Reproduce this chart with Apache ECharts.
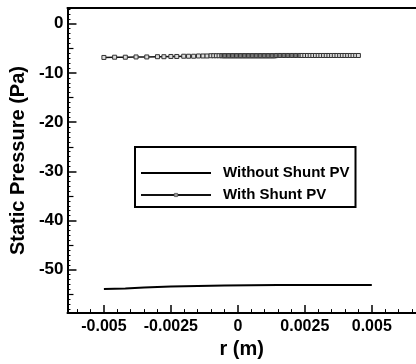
<!DOCTYPE html>
<html>
<head>
<meta charset="utf-8">
<script src="https://cdn.jsdelivr.net/npm/echarts@6/dist/echarts.min.js"></script>
<style>
  html, body { margin: 0; padding: 0; background: #fff; }
  #chart { width: 416px; height: 364px; }
</style>
</head>
<body>
<div id="chart"></div>
<script>
// ---- data ----
const seriesNames = ['Without Shunt PV', 'With Shunt PV'];

const rNoShunt = [-0.005, -0.0042, -0.0035, -0.0025, -0.0015, -0.0005, 0.0005, 0.0015, 0.0025, 0.0035, 0.005];
const pNoShunt = [-53.9, -53.8, -53.6, -53.4, -53.3, -53.2, -53.15, -53.1, -53.1, -53.1, -53.1];

const rShunt = [-0.005, -0.0046, -0.0042, -0.0038, -0.0034, -0.003, -0.00276, -0.0025, -0.00228, -0.00202,
  -0.00184, -0.00165, -0.00147, -0.0013, -0.00115, -0.001, -0.0009, -0.0008, -0.0007, -0.0006,
  -0.00055, -0.0005, -0.00045, -0.0004, -0.00035, -0.0003, -0.00025, -0.0002, -0.00015, -0.0001,
  -0.00005, 0, 0.00005, 0.0001, 0.00015, 0.0002, 0.00025, 0.0003, 0.00035, 0.0004,
  0.00045, 0.0005, 0.00055, 0.0006, 0.00065, 0.0007, 0.00075, 0.0008, 0.00085, 0.0009,
  0.00095, 0.001, 0.00105, 0.0011, 0.00115, 0.0012, 0.00125, 0.0013, 0.00135, 0.0014,
  0.00145, 0.0015, 0.00155, 0.0016, 0.00165, 0.0017, 0.00175, 0.0018, 0.00185, 0.0019,
  0.00195, 0.002, 0.00205, 0.0021, 0.00215, 0.0022, 0.00225, 0.0023, 0.00235, 0.0024,
  0.0025, 0.0026, 0.0027, 0.0028, 0.0029, 0.003, 0.0031, 0.0032, 0.0033, 0.0034,
  0.0035, 0.0036, 0.0037, 0.0038, 0.0039, 0.004, 0.0041, 0.0042, 0.0043, 0.0044,
  0.0045];
const pShunt = [-6.85, -6.8, -6.8, -6.75, -6.75, -6.7, -6.7, -6.65, -6.65, -6.6,
  -6.6, -6.6, -6.55, -6.55, -6.55, -6.5, -6.5, -6.5, -6.5, -6.5,
  -6.5, -6.5, -6.5, -6.5, -6.5, -6.5, -6.5, -6.5, -6.5, -6.5,
  -6.5, -6.5, -6.5, -6.5, -6.5, -6.5, -6.5, -6.5, -6.5, -6.5,
  -6.5, -6.5, -6.5, -6.5, -6.5, -6.5, -6.5, -6.5, -6.5, -6.5,
  -6.5, -6.5, -6.5, -6.5, -6.5, -6.5, -6.5, -6.5, -6.5, -6.5,
  -6.45, -6.45, -6.45, -6.45, -6.45, -6.45, -6.45, -6.45, -6.45, -6.45,
  -6.45, -6.45, -6.45, -6.45, -6.45, -6.45, -6.45, -6.45, -6.45, -6.45,
  -6.45, -6.45, -6.45, -6.45, -6.45, -6.45, -6.45, -6.45, -6.45, -6.45,
  -6.45, -6.45, -6.45, -6.45, -6.45, -6.45, -6.45, -6.45, -6.45, -6.45,
  -6.45];

// ---- ticks ----
const xMajor = [-0.005, -0.0025, 0, 0.0025, 0.005];
const xMinor = [-0.006, -0.0055, -0.0045, -0.004, -0.0035, -0.003, -0.002, -0.0015, -0.001, -0.0005,
  0.0005, 0.001, 0.0015, 0.002, 0.003, 0.0035, 0.004, 0.0045, 0.0055, 0.006, 0.0065];
const yMajor = [0, -10, -20, -30, -40, -50];
const yMid = [-5, -15, -25, -35, -45, -55];
const yMinor = [];
for (let v = 3; v >= -58; v--) {
  if (v % 5 !== 0) yMinor.push(v);
}

const X_MIN = -0.00636, X_MAX = 0.00665;
const Y_MIN = -58.8, Y_MAX = 3.2;

const font = '"Liberation Sans", Arial, sans-serif';
const black = '#000';

function pairs(xs, ys) {
  return xs.map((x, i) => [x, ys[i]]);
}

function xAx(extra) {
  return Object.assign({
    type: 'value', min: X_MIN, max: X_MAX, position: 'bottom',
    axisLine: { show: false, onZero: false },
    axisTick: { show: false },
    axisLabel: { show: false },
    splitLine: { show: false }
  }, extra);
}
function yAx(extra) {
  return Object.assign({
    type: 'value', min: Y_MIN, max: Y_MAX, position: 'left',
    axisLine: { show: false, onZero: false },
    axisTick: { show: false },
    axisLabel: { show: false },
    splitLine: { show: false }
  }, extra);
}

const chart = echarts.init(document.getElementById('chart'));
chart.setOption({
  animation: false,
  backgroundColor: '#fff',
  grid: { left: 62, right: 0, top: 8, bottom: 47 },
  legend: {
    orient: 'vertical',
    left: 135, top: 147,
    padding: [18, 6, 4, 5],
    itemWidth: 70, itemHeight: 4, itemGap: 6,
    borderColor: black, borderWidth: 2, backgroundColor: '#fff',
    textStyle: { fontFamily: font, fontWeight: 'bold', fontSize: 15, color: black, padding: [0, 0, 0, 7], lineHeight: 16 },
    data: [
      { name: seriesNames[0], itemStyle: { opacity: 0 } },
      { name: seriesNames[1], itemStyle: { color: '#999', borderColor: '#666', borderWidth: 1 } }
    ]
  },
  xAxis: [
    xAx({
      axisLine: { show: true, onZero: false, lineStyle: { color: black, width: 2 } },
      axisTick: { show: true, inside: true, length: 8, customValues: xMajor, lineStyle: { color: black, width: 1.5 } },
      axisLabel: {
        show: true, customValues: xMajor, margin: 5,
        fontFamily: font, fontWeight: 'bold', fontSize: 16, color: black,
        formatter: v => String(v)
      },
      name: 'r (m)', nameLocation: 'middle', nameGap: 22,
      nameTextStyle: { fontFamily: font, fontWeight: 'bold', fontSize: 20, color: black }
    }),
    xAx({
      axisTick: { show: true, inside: true, length: 4, customValues: xMinor, lineStyle: { color: black, width: 1 } }
    }),
    xAx({
      position: 'top',
      axisLine: { show: true, onZero: false, lineStyle: { color: black, width: 2 } }
    })
  ],
  yAxis: [
    yAx({
      axisLine: { show: true, onZero: false, lineStyle: { color: black, width: 2 } },
      axisTick: { show: true, inside: true, length: 9, customValues: yMajor, lineStyle: { color: black, width: 1.5 } },
      axisLabel: {
        show: true, customValues: yMajor, margin: 4,
        fontFamily: font, fontWeight: 'bold', fontSize: 17, color: black
      },
      name: 'Static Pressure (Pa)', nameLocation: 'middle', nameGap: 36, nameRotate: 90,
      nameTextStyle: { fontFamily: font, fontWeight: 'bold', fontSize: 20, color: black }
    }),
    yAx({
      axisTick: { show: true, inside: true, length: 6, customValues: yMid, lineStyle: { color: black, width: 1.2 } }
    }),
    yAx({
      axisTick: { show: true, inside: true, length: 3, customValues: yMinor, lineStyle: { color: black, width: 1 } }
    })
  ],
  series: [
    {
      name: seriesNames[0], type: 'line', xAxisIndex: 0, yAxisIndex: 0,
      data: pairs(rNoShunt, pNoShunt),
      symbol: 'none',
      lineStyle: { color: black, width: 2 },
      itemStyle: { color: black }
    },
    {
      name: seriesNames[1], type: 'line', xAxisIndex: 0, yAxisIndex: 0,
      data: pairs(rShunt, pShunt),
      symbol: 'rect', symbolSize: 4, showAllSymbol: true,
      lineStyle: { color: '#111', width: 1.5 },
      itemStyle: { color: '#ddd', borderColor: '#333', borderWidth: 1 }
    }
  ]
});
</script>
</body>
</html>
